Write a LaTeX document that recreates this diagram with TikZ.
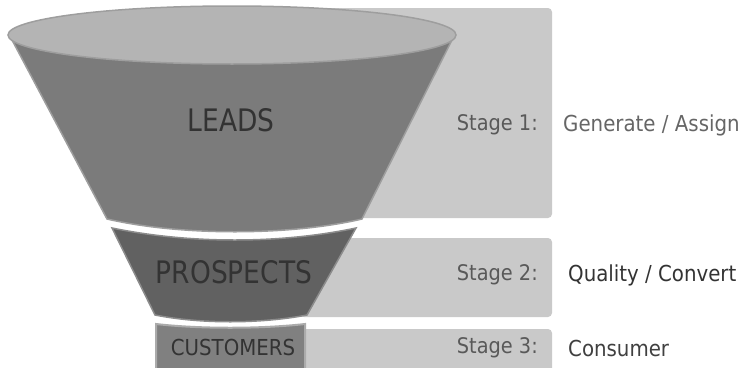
\documentclass[tikz,border=0pt]{standalone}
\usepackage{fontspec}
\setmainfont{DejaVu Sans Condensed}
\usepackage{xcolor}
\definecolor{boxgray}{HTML}{C9C9C9}
\definecolor{rimgray}{HTML}{B4B4B4}
\definecolor{leadgray}{HTML}{7B7B7B}
\definecolor{prosgray}{HTML}{616161}
\definecolor{custgray}{HTML}{808080}

\begin{document}
\begin{tikzpicture}
  [x=1pt,y=-1pt,
   stagebox/.style={fill=boxgray,rounded corners=4pt},
   part/.style={font=\fontsize{31}{31}\selectfont,text=black!80,inner sep=0pt,xscale=0.95},
   stage/.style={font=\fontsize{21.5}{21.5}\selectfont,text=black!65,anchor=east,inner sep=0pt},
   what/.style={font=\fontsize{22}{22}\selectfont,anchor=west,inner sep=0pt}]
  \useasboundingbox (0,0) rectangle (746,367);

  % grey bars behind the funnel
  \fill[stagebox] (250,8) rectangle (552,218);
  \fill[stagebox] (300,238) rectangle (552,317);
  \fill[stagebox] (250,329) rectangle (552,375);

  % funnel
  \draw[fill=leadgray,draw=black!38,line width=1.5pt] (12,40) -- (107,219)
    .. controls (180,236) and (290,236) .. (362,219) -- (452,40) -- cycle;
  \draw[fill=rimgray,draw=black!38,line width=1.5pt] (232,35) ellipse (224 and 29);
  \draw[fill=prosgray,draw=black!45,line width=1.5pt] (112,228)
    .. controls (190,244) and (280,244) .. (356,228) -- (307,315)
    .. controls (260,324) and (200,324) .. (155,315) -- cycle;
  \draw[fill=custgray,draw=black!33,line width=2pt] (156,324)
    .. controls (200,329) and (260,329) .. (305,324) -- (305,370) -- (156,370) -- cycle;

  \node[part] (leads) at (231,120) {LEADS};
  \node[part] (prosp) at (234,272) {PROSPECTS};
  \node[part,font=\fontsize{22}{22}\selectfont,xscale=1.05] (cust) at (233,347) {CUSTOMERS};

  \node[stage] (s1) at (538,125) {Stage 1:};
  \node[stage] (s2) at (538,275) {Stage 2:};
  \node[stage] (s3) at (538,348) {Stage 3:};

  \node[what,text=black!60] (w1) at (563,125) {Generate / Assign};
  \node[what,text=black!80] (w2) at (568,275) {Quality / Convert};
  \node[what,text=black!75] (w3) at (568,348) {Consumer};

\end{tikzpicture}
\end{document}
